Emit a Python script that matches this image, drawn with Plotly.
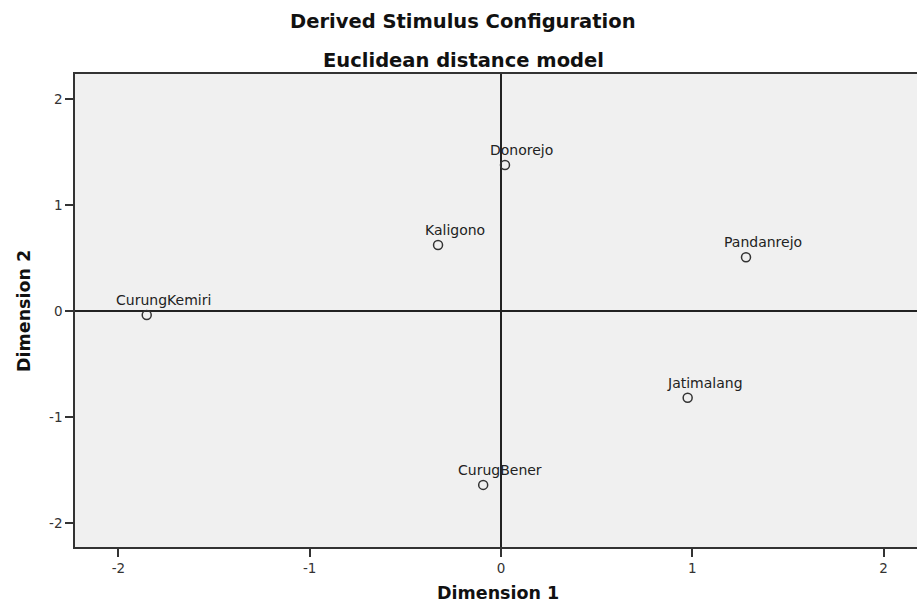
import plotly.graph_objects as go

# Data
names = ["Donorejo", "Kaligono", "Pandanrejo", "Jatimalang", "CurungKemiri", "CurugBener"]
dim1 = [0.021, -0.329, 1.281, 0.976, -1.852, -0.093]
dim2 = [1.377, 0.623, 0.507, -0.818, -0.038, -1.640]
tick_vals = [-2, -1, 0, 1, 2]
tick_text = ["-2", "-1", "0", "1", "2"]

W, H = 917, 606
ML, MR, MT, MB = 75, 0, 74, 59
PW, PH = W - ML - MR, H - MT - MB

def px_x(p):
    return (p - ML) / PW

def px_y(p):
    return (H - MB - p) / PH

fig = go.Figure()
fig.add_trace(go.Scatter(
    x=dim1, y=dim2, mode="markers",
    marker=dict(symbol="circle-open", size=9, color="#333333", line=dict(width=1.5, color="#333333")),
    hoverinfo="text", text=names, showlegend=False,
))

annotations = []
for n, x, y in zip(names, dim1, dim2):
    annotations.append(dict(
        x=x, y=y, xref="x", yref="y", text=n, showarrow=False,
        xanchor="center", yanchor="middle", xshift=17, yshift=15,
        font=dict(family="DejaVu Sans", size=14, color="#222222"),
    ))

annotations += [
    dict(x=px_x(463), y=px_y(21), xref="paper", yref="paper", text="<b>Derived Stimulus Configuration</b>",
         showarrow=False, xanchor="center", yanchor="middle",
         font=dict(family="DejaVu Sans", size=19.5, color="#111111")),
    dict(x=px_x(463), y=px_y(60), xref="paper", yref="paper", text="<b>Euclidean distance model</b>",
         showarrow=False, xanchor="center", yanchor="middle",
         font=dict(family="DejaVu Sans", size=19.5, color="#111111")),
    dict(x=px_x(498), y=px_y(593), xref="paper", yref="paper", text="<b>Dimension 1</b>",
         showarrow=False, xanchor="center", yanchor="middle",
         font=dict(family="DejaVu Sans", size=17.5, color="#111111")),
    dict(x=px_x(24), y=px_y(311), xref="paper", yref="paper", text="<b>Dimension 2</b>",
         showarrow=False, xanchor="center", yanchor="middle", textangle=-90,
         font=dict(family="DejaVu Sans", size=17.5, color="#111111")),
]

axis_common = dict(
    tickmode="array", tickvals=tick_vals, ticktext=tick_text,
    ticks="outside", ticklen=8, tickwidth=1.5, tickcolor="#333333",
    showgrid=False, zeroline=True, zerolinecolor="#222222", zerolinewidth=1.5,
    showline=True, linecolor="#333333", linewidth=1.5,
    tickfont=dict(family="DejaVu Sans", size=13.5, color="#333333"),
)

fig.update_layout(
    width=W, height=H,
    margin=dict(l=ML, r=MR, t=MT, b=MB, pad=0),
    paper_bgcolor="white", plot_bgcolor="#f0f0f0",
    xaxis=dict(range=[-2.227, 2.175], mirror=True, **axis_common),
    yaxis=dict(range=[-2.226, 2.236], mirror=False, **axis_common),
    annotations=annotations,
    showlegend=False,
)

fig.write_html(
    "out.html",
    config={"displayModeBar": False},
    post_script="document.body.style.margin='0';document.body.style.overflow='hidden';",
)
